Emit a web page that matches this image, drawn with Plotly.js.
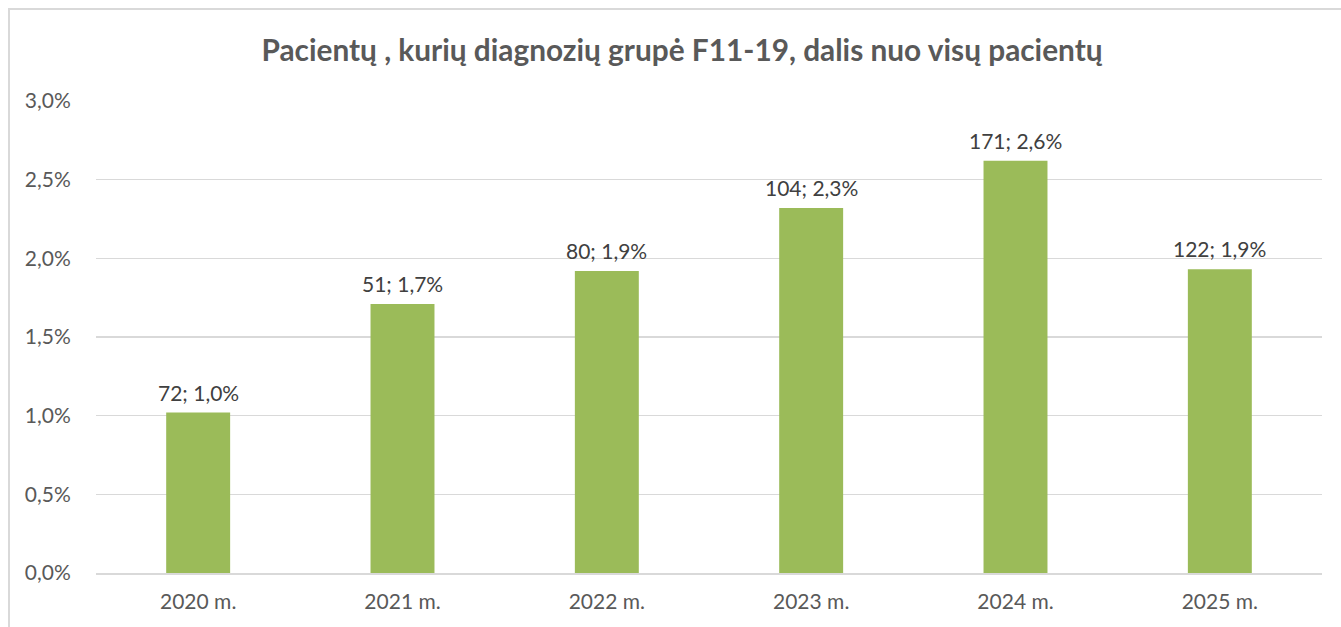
<!DOCTYPE html>
<html><head><meta charset="utf-8">
<script src="https://cdn.plot.ly/plotly-3.0.1.min.js"></script>
<style>
html,body{margin:0;padding:0;background:#fff;overflow:hidden;}
#chart{position:absolute;left:0;top:0;width:1341px;height:627px;}
#frame{position:absolute;left:8px;top:8px;width:1500px;height:800px;border:2px solid #d9d9d9;pointer-events:none;}
</style></head>
<body>
<div id="chart"></div>
<div id="frame"></div>
<script>
const years = ['2020 m.','2021 m.','2022 m.','2023 m.','2024 m.','2025 m.'];
const shares = [0.0102, 0.0171, 0.0192, 0.0232, 0.0262, 0.0193];
const counts = [72, 51, 80, 104, 171, 122];
const shareLabels = ['1,0%','1,7%','1,9%','2,3%','2,6%','1,9%'];
const labels = counts.map((c,i)=>c+'; '+shareLabels[i]);
const F = 'Lato, Calibri, sans-serif';
const ann = years.map((y,i)=>({x:y,y:shares[i],text:labels[i],showarrow:false,yanchor:'bottom',yshift:6,
  font:{family:F,size:21,color:'#404040'}}));
Plotly.newPlot('chart',[{
  type:'bar', x:years, y:shares, marker:{color:'#9bbb59'}, hoverinfo:'skip'
}],{
  width:1341,height:627,
  margin:{l:96,r:19,t:101,b:54},
  paper_bgcolor:'rgba(0,0,0,0)',plot_bgcolor:'rgba(0,0,0,0)',
  separators:', ',
  bargap:0.687,
  annotations:ann,
  title:{text:'<b>Pacientų , kurių diagnozių grupė F11-19, dalis nuo visų pacientų</b>',
    font:{family:F,size:29.8,color:'#595959'},xref:'container',x:0.5086,xanchor:'center',y:0.92,yanchor:'middle'},
  xaxis:{showgrid:false,showline:true,linecolor:'#d9d9d9',linewidth:1.5,ticks:'outside',ticklen:9,tickcolor:'rgba(0,0,0,0)',
    tickfont:{family:F,size:21,color:'#595959'}},
  yaxis:{range:[0,0.03],dtick:0.005,tickformat:'.1%',gridcolor:'#d9d9d9',gridwidth:1.5,zeroline:false,
    ticks:'outside',ticklen:20,tickcolor:'rgba(0,0,0,0)',tickfont:{family:F,size:21,color:'#595959'}},
  showlegend:false
},{displayModeBar:false,staticPlot:true});
</script>
</body></html>
